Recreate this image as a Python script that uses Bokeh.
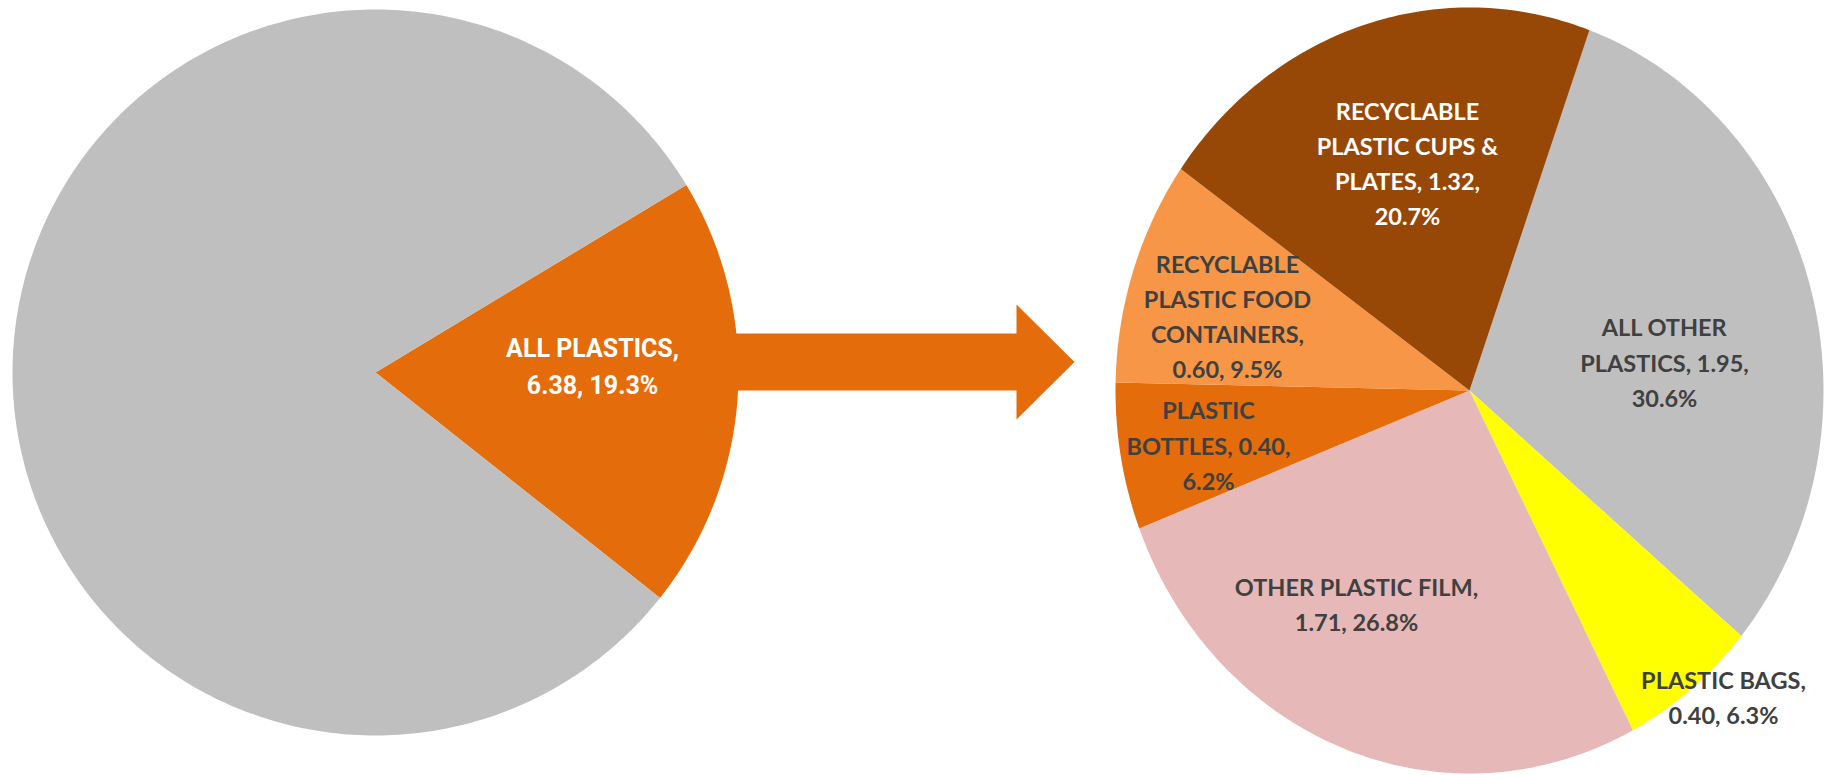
import numpy as np
from bokeh.plotting import figure
from bokeh.models import Range1d, ColumnDataSource
from bokeh.core.properties import value
from bokeh.embed import file_html
from bokeh.resources import INLINE

# ---------------- data ----------------
left_categories = ["ALL PLASTICS", "ALL OTHER MATERIALS"]
left_pcts = [19.3, 80.7]
left_plastic_tons = 6.38

right_categories = ["ALL OTHER PLASTICS", "PLASTIC BAGS", "OTHER PLASTIC FILM",
                    "PLASTIC BOTTLES", "RECYCLABLE PLASTIC FOOD CONTAINERS",
                    "RECYCLABLE PLASTIC CUPS & PLATES"]
right_values = [1.95, 0.40, 1.71, 0.40, 0.60, 1.32]
right_pcts = [30.6, 6.3, 26.8, 6.2, 9.5, 20.7]
# label wrapping as shown in the chart ({v} value, {p} percent)
right_label_fmt = ["ALL OTHER\nPLASTICS, {v},\n{p}%",
                   "PLASTIC BAGS,\n{v}, {p}%",
                   "OTHER PLASTIC FILM,\n{v}, {p}%",
                   "PLASTIC\nBOTTLES, {v},\n{p}%",
                   "RECYCLABLE\nPLASTIC FOOD\nCONTAINERS,\n{v}, {p}%",
                   "RECYCLABLE\nPLASTIC CUPS &\nPLATES, {v},\n{p}%"]
left_label_fmt = "ALL PLASTICS,\n{v}, {p}%"

# ---------------- styles / layout ----------------
W, H = 1831, 775
GREY = "#BFBFBF"
ORANGE = "#E46C0A"
left_colors = [ORANGE, GREY]
right_colors = [GREY, "#FFFF00", "#E6B8B7", ORANGE, "#F79646", "#974806"]
right_text_colors = ["#404040"] * 5 + ["#FFFFFF"]

L_CX, L_CY, L_R, L_START = 375, 372, 363, 58.9
R_CX, R_CY, R_RX, R_RY, R_START = 1469, 390, 354, 383, 19.8

right_label_pos = [(1664, 362), (1723, 697), (1356, 604), (1208, 445), (1227, 316), (1407, 163)]
right_line_gap = 35.3
left_label_pos = (592, 366)
left_line_gap = 37

p = figure(width=W, height=H, output_backend="svg", toolbar_location=None,
           x_range=Range1d(0, W), y_range=Range1d(H, 0), min_border=0)
p.axis.visible = False
p.grid.visible = False
p.outline_line_color = None
p.background_fill_color = "white"
p.border_fill_color = "white"


def pie_polys(pcts, cx, cy, rx, ry, start_deg):
    xs, ys = [], []
    total = float(sum(pcts))
    a0 = np.radians(start_deg)
    for pc in pcts:
        span = 2 * np.pi * pc / total
        n = max(8, int(400 * pc / total))
        th = np.linspace(a0, a0 + span, n)
        xs.append(np.concatenate([[cx], cx + rx * np.sin(th)]).tolist())
        ys.append(np.concatenate([[cy], cy - ry * np.cos(th)]).tolist())
        a0 += span
    return xs, ys

# arrow (decoration)
ax0, ax1, atip = 700, 1016, 1074
ay_mid, shaft_h, head_h = 361.5, 57, 115
p.patch([ax0, ax1, ax1, atip, ax1, ax1, ax0],
        [ay_mid - shaft_h / 2, ay_mid - shaft_h / 2, ay_mid - head_h / 2, ay_mid,
         ay_mid + head_h / 2, ay_mid + shaft_h / 2, ay_mid + shaft_h / 2],
        fill_color=ORANGE, line_color=None)

# left pie
lx, ly = pie_polys(left_pcts, L_CX, L_CY, L_R, L_R, L_START)
p.patches(xs="xs", ys="ys", fill_color="color", line_color=None,
          source=ColumnDataSource(dict(xs=lx, ys=ly, color=left_colors, cat=left_categories)))

# right pie
rxs, rys = pie_polys(right_pcts, R_CX, R_CY, R_RX, R_RY, R_START)
p.patches(xs="xs", ys="ys", fill_color="color", line_color=None,
          source=ColumnDataSource(dict(xs=rxs, ys=rys, color=right_colors, cat=right_categories)))

# labels
tx, ty, tt, tc = [], [], [], []
for fmt, v, pc, (x, y), col in zip(right_label_fmt, right_values, right_pcts,
                                   right_label_pos, right_text_colors):
    lines = fmt.format(v=f"{v:.2f}", p=f"{pc:.1f}").split("\n")
    n = len(lines)
    for i, ln in enumerate(lines):
        tx.append(x)
        ty.append(y + (i - (n - 1) / 2) * right_line_gap)
        tt.append(ln)
        tc.append(col)
p.text(x="x", y="y", text="t", text_color="c", source=ColumnDataSource(dict(x=tx, y=ty, t=tt, c=tc)),
       text_font=value("Lato"), text_font_style="bold", text_font_size="23.5px",
       text_align="center", text_baseline="middle")

llines = left_label_fmt.format(v=f"{left_plastic_tons:.2f}", p=f"{left_pcts[0]:.1f}").split("\n")
lxs = [left_label_pos[0]] * len(llines)
lys = [left_label_pos[1] + (i - (len(llines) - 1) / 2) * left_line_gap for i in range(len(llines))]
p.text(x=lxs, y=lys, text=llines, text_color="white",
       text_font=value("Roboto"), text_font_style="bold", text_font_size="25px",
       text_align="center", text_baseline="middle")

open("out.html", "w").write(file_html(p, INLINE))
